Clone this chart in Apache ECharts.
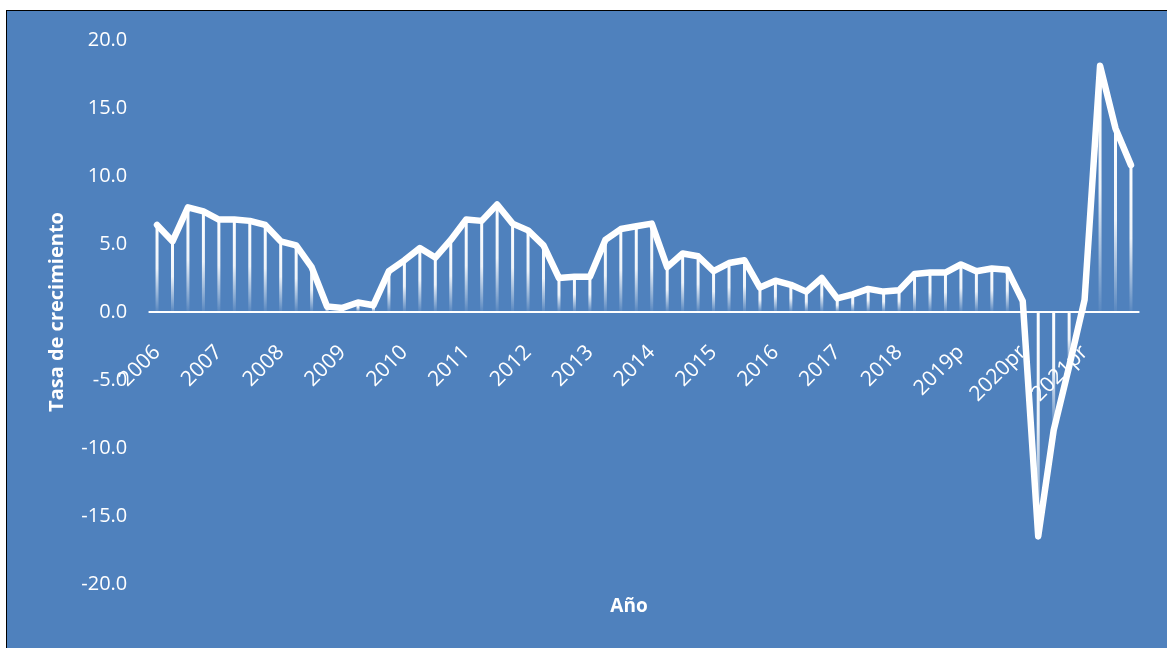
<!DOCTYPE html>
<html>
<head>
<meta charset="utf-8">
<script src="https://cdn.jsdelivr.net/npm/echarts@6/dist/echarts.min.js"></script>
<style>
  html, body { margin: 0; padding: 0; background: #ffffff; width: 1167px; height: 648px; overflow: hidden; }
  #bg { position: absolute; left: 6px; top: 10px; width: 1161px; height: 638px; background: #4F81BD;
        border-left: 1px solid #000; border-top: 1px solid #000; box-sizing: border-box; }
  #chart { position: absolute; left: 0; top: 0; width: 1167px; height: 648px; }
</style>
</head>
<body>
<div id="bg"></div>
<div id="chart"></div>
<script>
const years = ['2006','2007','2008','2009','2010','2011','2012','2013','2014','2015','2016','2017','2018','2019p','2020pr','2021pr'];
const quarters = ['I','II','III','IV'];
const growth = [
  6.4, 5.2, 7.7, 7.4, 6.8, 6.8, 6.7, 6.4,
  5.2, 4.9, 3.3, 0.4, 0.3, 0.7, 0.5, 3.0,
  3.8, 4.7, 4.0, 5.3, 6.8, 6.7, 7.9, 6.5,
  6.0, 4.9, 2.5, 2.6, 2.6, 5.3, 6.1, 6.3,
  6.5, 3.3, 4.3, 4.1, 3.0, 3.6, 3.8, 1.8,
  2.3, 2.0, 1.5, 2.5, 1.0, 1.3, 1.7, 1.5,
  1.6, 2.8, 2.9, 2.9, 3.5, 3.0, 3.2, 3.1,
  0.8, -16.5, -8.7, -4.0, 0.9, 18.1, 13.5, 10.8
];
const yTicks = { min: -20, max: 20, interval: 5 };

const categories = [];
years.forEach(y => quarters.forEach(q => categories.push(y + ' ' + q)));

const chart = echarts.init(document.getElementById('chart'), null, { renderer: 'canvas' });
const font = '"Open Sans", "Noto Sans", sans-serif';
const gridTop = 40, gridBottom = 64;
// place the category axis at value 0 (middle of the symmetric range)
const zeroOffset = -(648 - gridBottom - gridTop) / 2;
chart.setOption({
  backgroundColor: 'transparent',
  animation: false,
  grid: { left: 149.3, right: 1167 - 1138.7, top: gridTop, bottom: gridBottom, containLabel: false, outerBoundsMode: 'none' },
  xAxis: {
    type: 'category',
    data: categories,
    boundaryGap: true,
    position: 'bottom',
    offset: zeroOffset,
    name: 'Año',
    nameLocation: 'middle',
    nameGap: 285,
    nameTextStyle: { color: '#ffffff', fontFamily: font, fontWeight: 'bold', fontSize: 19, padding: [0, 30, 0, 0] },
    axisLine: { onZero: false, lineStyle: { color: '#ffffff', width: 2 } },
    axisTick: { show: false },
    axisLabel: {
      interval: 3,
      rotate: 45,
      margin: 37,
      color: '#ffffff',
      fontFamily: font,
      fontSize: 21,
      formatter: v => v.split(' ')[0]
    },
    splitLine: { show: false }
  },
  yAxis: {
    type: 'value',
    min: yTicks.min,
    max: yTicks.max,
    interval: yTicks.interval,
    name: 'Tasa de crecimiento',
    nameLocation: 'middle',
    nameGap: 82,
    nameTextStyle: { color: '#ffffff', fontFamily: font, fontWeight: 'bold', fontSize: 20 },
    axisLine: { show: false },
    axisTick: { show: false },
    splitLine: { show: false },
    axisLabel: {
      margin: 22,
      color: '#ffffff',
      fontFamily: font,
      fontSize: 20,
      formatter: v => v.toFixed(1)
    }
  },
  series: [
    {
      type: 'bar',
      data: growth,
      barWidth: 3,
      itemStyle: {
        color: new echarts.graphic.LinearGradient(0, 0, 0, 1, [
          { offset: 0, color: 'rgba(255,255,255,1)' },
          { offset: 0.5, color: 'rgba(255,255,255,0.9)' },
          { offset: 1, color: 'rgba(255,255,255,0.05)' }
        ])
      },
      z: 1
    },
    {
      type: 'line',
      data: growth,
      symbol: 'none',
      smooth: false,
      lineStyle: { color: '#ffffff', width: 6.5, cap: 'round', join: 'round' },
      z: 3
    }
  ]
});
</script>
</body>
</html>
